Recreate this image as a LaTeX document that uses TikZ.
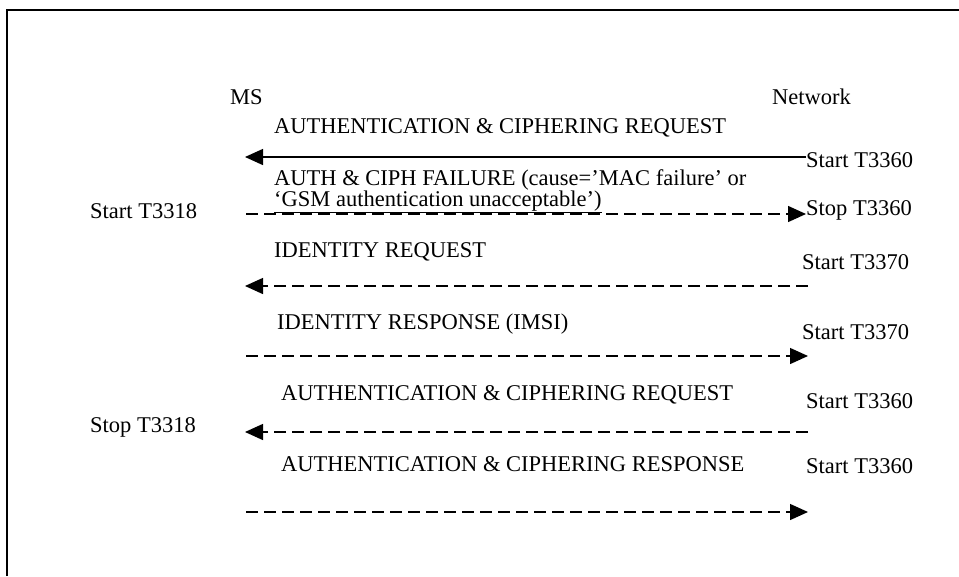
\documentclass[tikz,border=0pt]{standalone}
\usepackage{fontspec}
\setmainfont{Liberation Serif}
\usepackage{tikz}
\usetikzlibrary{arrows.meta,positioning}

\begin{document}
\begin{tikzpicture}[
        x=1pt, y=-1pt,
        lbl/.style={anchor=base west, inner sep=0pt, font=\fontsize{22.5}{26}\selectfont},
        msg/.style={line width=1.4pt, -{Triangle[length=18pt,width=16pt]}},
        dmsg/.style={msg, dash pattern=on 12pt off 6pt}
    ]
    \useasboundingbox (0,0) rectangle (959,576);

    % Frame
    \draw[line width=2pt] (7,576) -- (7,10) -- (959,10);

    % Define entities
    \node[lbl] (ms) at (230,104) {MS};
    \node[lbl] (net) at (772,104) {Network};

    % Define timer labels
    \node[lbl] (t1) at (806,167) {Start T3360};
    \node[lbl] (t2) at (806,215) {Stop T3360};
    \node[lbl] (t3) at (802,269) {Start T3370};
    \node[lbl] (t4) at (802,339) {Start T3370};
    \node[lbl] (t5) at (806,408) {Start T3360};
    \node[lbl] (t6) at (806,473) {Start T3360};
    \node[lbl] (m1) at (90,218) {Start T3318};
    \node[lbl] (m2) at (90,432) {Stop T3318};

    % Define message texts
    \node[lbl] (req1) at (274,133) {AUTHENTICATION \& CIPHERING REQUEST};
    \node[lbl] (fail1) at (274,185) {AUTH \& CIPH FAILURE (cause=’MAC failure’ or};
    \node[lbl] (fail2) at (274,206) {\underline{‘GSM authentication unacceptable’)}};
    \node[lbl] (idreq) at (274,257) {IDENTITY REQUEST};
    \node[lbl] (idres) at (277,329) {IDENTITY RESPONSE (IMSI)};
    \node[lbl] (req2) at (281,400) {AUTHENTICATION \& CIPHERING REQUEST};
    \node[lbl] (res) at (281,471) {AUTHENTICATION \& CIPHERING RESPONSE};

    % Arrow end points
    \coordinate (a1n) at (806,157); \coordinate (a1m) at (245,157);
    \coordinate (a2m) at (246,214); \coordinate (a2n) at (806,214);
    \coordinate (a3n) at (808,286); \coordinate (a3m) at (245,286);
    \coordinate (a4m) at (246,356); \coordinate (a4n) at (808,356);
    \coordinate (a5n) at (808,432); \coordinate (a5m) at (245,432);
    \coordinate (a6m) at (246,512); \coordinate (a6n) at (808,512);

    % Draw messages
    \draw[msg] (a1n) -- (a1m);
    \draw[dmsg] (a2m) -- (a2n);
    \draw[dmsg] (a3n) -- (a3m);
    \draw[dmsg] (a4m) -- (a4n);
    \draw[dmsg] (a5n) -- (a5m);
    \draw[dmsg] (a6m) -- (a6n);

\end{tikzpicture}
\end{document}
